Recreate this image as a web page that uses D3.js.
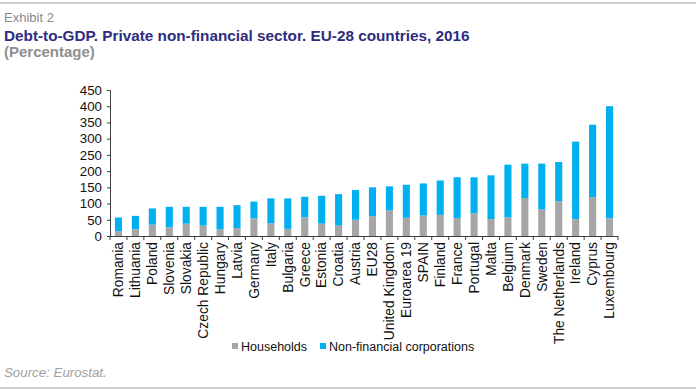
<!DOCTYPE html>
<html><head><meta charset="utf-8">
<script src="https://cdn.jsdelivr.net/npm/d3@7"></script>
<style>
html,body{margin:0;padding:0;background:#fff;}
svg{display:block;font-family:Arial,"Liberation Sans",sans-serif;}
</style></head>
<body>
<svg id="chart" width="696" height="392"></svg>
<script>
const countries = ["Romania","Lithuania","Poland","Slovenia","Slovakia","Czech Republic","Hungary","Latvia","Germany","Italy","Bulgaria","Greece","Estonia","Croatia","Austria","EU28","United Kingdom","Euroarea 19","SPAIN","Finland","France","Portugal","Malta","Belgium","Denmark","Sweden","The Netherlands","Ireland","Cyprus","Luxembourg"];
const households = [15,21,35,27,38,32,21,24,54,39,22,58,38,32,50,61,79,56,63,65,55,70,52,57,117,82,107,52,120,55];
const corporations = [42,41,50,63,52,58,69,71,52,77,94,63,86,97,92,89,74,102,99,106,126,111,135,163,106,141,121,239,223,345];
const yTicks = [0,50,100,150,200,250,300,350,400,450];
const seriesNames = ["Households","Non-financial corporations"];
const colors = ["#a6a6a6","#00b0f0"];

const svg = d3.select("#chart");
svg.append("rect").attr("x",0).attr("y",2).attr("width",696).attr("height",2).attr("fill","#cfcfcf");
svg.append("rect").attr("x",0).attr("y",387).attr("width",696).attr("height",2).attr("fill","#cfcfcf");

svg.append("text").attr("x",4).attr("y",22).attr("font-size",13).attr("fill","#8a8a8a").text("Exhibit 2");
svg.append("text").attr("x",4).attr("y",41).attr("font-size",15.3).attr("font-weight","bold").attr("fill","#2e2d80")
  .text("Debt-to-GDP. Private non-financial sector. EU-28 countries, 2016");
svg.append("text").attr("x",4).attr("y",57).attr("font-size",15).attr("font-weight","bold").attr("fill","#8f8f8f").text("(Percentage)");

const x0 = 110, x1 = 618, yTop = 90, yBase = 236;
const x = d3.scaleBand().domain(countries).range([x0,x1]).paddingInner(0.58).paddingOuter(0.29);
const y = d3.scaleLinear().domain([0,450]).range([yBase,yTop]);

const data = countries.map((c,i)=>({country:c, households:households[i], corporations:corporations[i]}));
const stack = d3.stack().keys(["households","corporations"])(data);

const g = svg.append("g");
g.selectAll("g.series").data(stack).join("g").attr("fill",(d,i)=>colors[i])
  .selectAll("rect").data(d=>d).join("rect")
  .attr("x",d=>x(d.data.country))
  .attr("width",x.bandwidth())
  .attr("y",d=>y(d[1]))
  .attr("height",d=>y(d[0])-y(d[1]));

const yAxis = svg.append("g").attr("transform",`translate(${x0},0)`)
  .call(d3.axisLeft(y).tickValues(yTicks).tickSize(3).tickPadding(5));
yAxis.select(".domain").attr("stroke","#404040");
yAxis.selectAll(".tick line").attr("stroke","#404040");
yAxis.selectAll("text").attr("font-size",13.3).attr("fill","#111").attr("font-family","Arial,'Liberation Sans',sans-serif");

const bounds = d3.range(countries.length+1).map(i=>x0 + i*(x1-x0)/countries.length);
svg.append("line").attr("x1",x0).attr("x2",x1).attr("y1",yBase+0.5).attr("y2",yBase+0.5).attr("stroke","#404040");
svg.selectAll("line.xt").data(bounds).join("line").attr("class","xt")
  .attr("x1",d=>d).attr("x2",d=>d).attr("y1",yBase).attr("y2",yBase+4).attr("stroke","#404040");
svg.selectAll("text.xl").data(countries).join("text").attr("class","xl")
  .attr("transform",d=>`translate(${x(d)+x.bandwidth()/2+4.8},${yBase+6}) rotate(-90)`)
  .attr("text-anchor","end").attr("font-size",13.8).attr("fill","#111").text(d=>d);

const leg = svg.append("g");
const legX = [232, 320];
seriesNames.forEach((n,i)=>{
  leg.append("rect").attr("x",legX[i]).attr("y",343).attr("width",6).attr("height",6).attr("fill",colors[i]);
  leg.append("text").attr("x",legX[i]+9).attr("y",351).attr("font-size",12.5).attr("fill","#111").text(n);
});

svg.append("text").attr("x",4).attr("y",377).attr("font-size",13.3).attr("font-style","italic").attr("fill","#a0a0a0").text("Source: Eurostat.");
</script>
</body></html>
